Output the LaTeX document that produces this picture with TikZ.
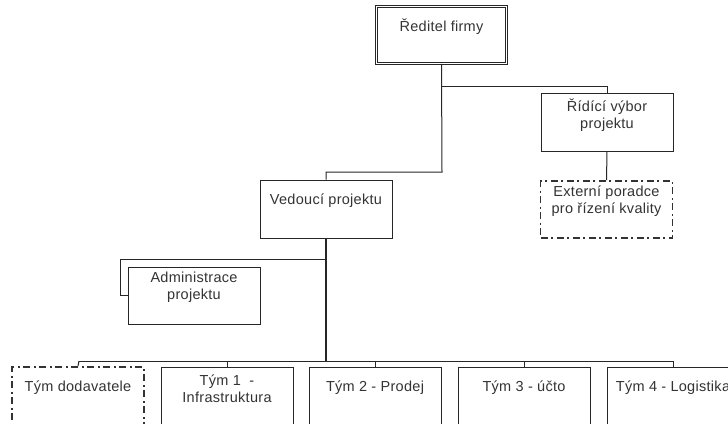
\documentclass[tikz,border=0pt]{standalone}
\usepackage{fontspec}
\setmainfont{Liberation Sans}[LetterSpace=2]
\begin{document}
\begin{tikzpicture}[x=1pt,y=-1pt,
  ln/.style={draw=black!85,line width=1pt},
  box/.style={draw=black!85,line width=1pt,fill=white,minimum width=132pt,minimum height=58pt,inner sep=0pt},
  dbox/.style={draw=black!85,line width=0.8pt,double=white,double distance=1.6pt,minimum width=130pt,minimum height=57pt,inner sep=0pt},
  dashbox/.style={box,draw=black!80,line width=1.8pt,dash pattern=on 7pt off 3.5pt on 2pt off 3.5pt},
  txt/.style={text=black!80,align=center,font=\fontsize{14.5}{17}\selectfont,inner sep=0pt}]
\useasboundingbox (0,0) rectangle (728,423);
% boxes
\node[dbox] (dir) at (441.5,35) {};
\node[box] (rid) at (607,122) {};
\node[dashbox,minimum height=57pt] (ext) at (606.5,209.5) {};
\node[box] (ved) at (326,209) {};
\node[box,minimum height=57pt] (adm) at (194,295.5) {};
\node[dashbox] (dod) at (78,396) {};
\node[box] (t1) at (227,396) {};
\node[box] (t2) at (375,396) {};
\node[box] (t3) at (524,396) {};
\node[box] (t4) at (673,396) {};
% texts
\node[txt] (dirT) at (441.5,27) {Ředitel firmy};
\node[txt] (ridT) at (607,115) {Řídící výbor\\projektu};
\node[txt] (extT) at (606.5,201.5) {Externí poradce\\pro řízení kvality};
\node[txt] (vedT) at (326,201) {Vedoucí projektu};
\node[txt] (admT) at (194,287) {Administrace\\projektu};
\node[txt] (dodT) at (78,388) {Tým dodavatele};
\node[txt] (t1T) at (227,389) {Tým 1 \ -\\Infrastruktura};
\node[txt] (t2T) at (375,388) {Tým 2 - Prodej};
\node[txt] (t3T) at (524,388) {Tým 3 - účto};
\node[txt] (t4T) at (673,388) {Tým 4 - Logistika};
% junctions
\coordinate (j1) at (442,86);
\coordinate (j0) at (442,172);
\coordinate (j2) at (326,259);
\coordinate (a1) at (120,259);
\coordinate (bus) at (326,361);
\coordinate (bl) at (79,361);
\coordinate (br) at (673,361);
% connectors
\draw[ln] (dir.south) -- (j0) -| (ved.north);
\draw[ln] (j1) -| (rid.north);
\draw[ln] (rid.south) -- (ext.north);
\draw[ln,line width=2pt] (ved.south) -- (bus);
\draw[ln] (j2) -- (a1) |- (adm.west);
\draw[ln] (bl) -- (br);
\draw[ln] (bl) -- (dod.north);
\draw[ln] (t1.north) -- (t1.north |- bus);
\draw[ln] (t2.north) -- (t2.north |- bus);
\draw[ln] (t3.north) -- (t3.north |- bus);
\draw[ln] (t4.north) -- (br);
\end{tikzpicture}
\end{document}
